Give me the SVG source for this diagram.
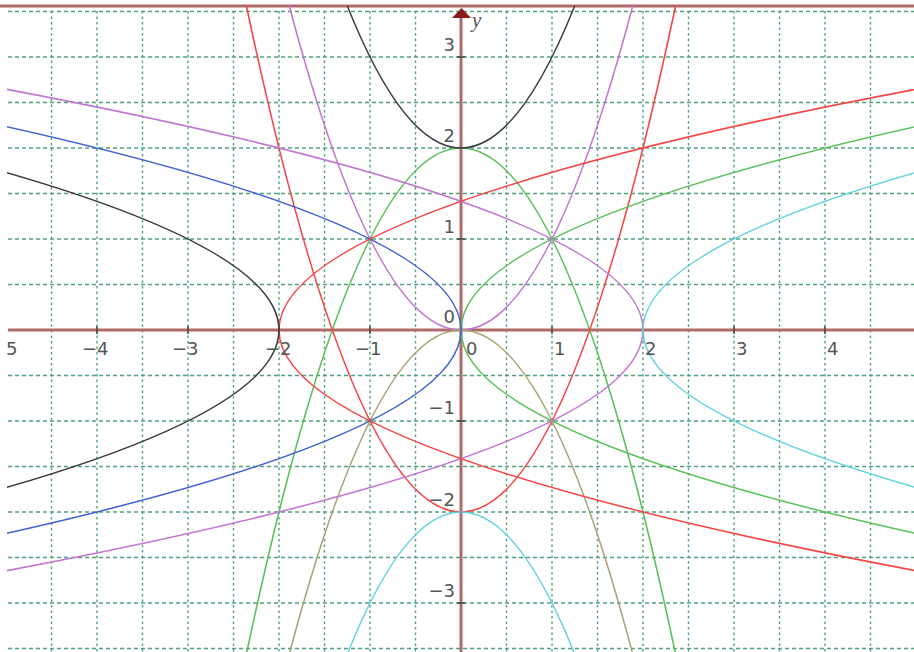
<svg xmlns="http://www.w3.org/2000/svg" width="914" height="652" viewBox="0 0 914 652">
<style>
.gh{stroke:#4fa27a;stroke-width:1.4;stroke-dasharray:4 3;fill:none}
.gv{stroke:#4fa27a;stroke-width:1.4;stroke-dasharray:2.5 3;fill:none}
.ax{stroke:#b06a6a;stroke-width:3;fill:none}
.tk{stroke:#444;stroke-width:1.5}
.c{fill:none;stroke-width:1.6}
.lb{font-family:"DejaVu Sans",sans-serif;font-size:18px;fill:#555}
.ye{text-anchor:end}
</style>
<defs>
<clipPath id="plot"><rect x="7" y="6" width="907" height="646"/></clipPath>
</defs>
<rect width="914" height="652" fill="#fff"/>
<g id="grid" clip-path="url(#plot)">
<path class="gh" d="M8,11.5H914M8,57H914M8,102.5H914M8,148H914M8,193.5H914M8,239H914M8,284.5H914M8,375.5H914M8,421H914M8,466.5H914M8,512H914M8,557.5H914M8,603H914M8,648.5H914"/>
<path class="gv" d="M51.5,11V652M97,11V652M142.5,11V652M188,11V652M233.5,11V652M279,11V652M324.5,11V652M370,11V652M415.5,11V652M506.5,11V652M552,11V652M597.5,11V652M643,11V652M688.5,11V652M734,11V652M779.5,11V652M825,11V652M870.5,11V652"/>
</g>
<g id="axes">
<line class="ax" x1="0" y1="6" x2="914" y2="6"/>
<line class="ax" x1="8" y1="330" x2="914" y2="330"/>
<line class="ax" x1="461" y1="14" x2="461" y2="652"/>
<polygon points="452,18 461.5,8 471,18" fill="#8b1c1c"/>
<path class="tk" d="M97,326V334M188,326V334M279,326V334M370,326V334M552,326V334M643,326V334M734,326V334M825,326V334M457,57H465M457,148H465M457,239H465M457,421H465M457,512H465M457,603H465"/>
</g>
<g id="curves" clip-path="url(#plot)">
<path id="y-x2" class="c" stroke="#c274d2" d="M233.5,-238.75 Q461,898.75 688.5,-238.75"/>
<path id="y-negx2" class="c" stroke="#a8a270" d="M233.5,898.75 Q461,-238.75 688.5,898.75"/>
<path id="y-2minusx2" class="c" stroke="#58c058" d="M233.5,716.75 Q461,-420.75 688.5,716.75"/>
<path id="y-x2minus2" class="c" stroke="#f54444" d="M233.5,-56.75 Q461,1080.75 688.5,-56.75"/>
<path id="y-x2plus2" class="c" stroke="#3a3a3a" d="M233.5,-420.75 Q461,716.75 688.5,-420.75"/>
<path id="y-negx2minus2" class="c" stroke="#62d2de" d="M233.5,1080.75 Q461,-56.75 688.5,1080.75"/>
<path id="x-y2" class="c" stroke="#58c058" d="M1280,57 Q-358,330 1280,603"/>
<path id="x-negy2" class="c" stroke="#3f62cf" d="M-358,57 Q1280,330 -358,603"/>
<path id="x-2minusy2" class="c" stroke="#c274d2" d="M-176,57 Q1462,330 -176,603"/>
<path id="x-y2minus2" class="c" stroke="#f54444" d="M1098,57 Q-540,330 1098,603"/>
<path id="x-negy2minus2" class="c" stroke="#3a3a3a" d="M-540,57 Q1098,330 -540,603"/>
<path id="x-y2plus2" class="c" stroke="#62d2de" d="M1462,57 Q-176,330 1462,603"/>
</g>
<g id="labels">
<text class="lb" x="6" y="355">5</text>
<text class="lb" x="82" y="355">−4</text>
<text class="lb" x="172" y="355">−3</text>
<text class="lb" x="265" y="355">−2</text>
<text class="lb" x="355" y="355">−1</text>
<text class="lb" x="466" y="355">0</text>
<text class="lb" x="554" y="355">1</text>
<text class="lb" x="645" y="355">2</text>
<text class="lb" x="736" y="355">3</text>
<text class="lb" x="827" y="355">4</text>
<text class="lb ye" x="455" y="51">3</text>
<text class="lb ye" x="455" y="142">2</text>
<text class="lb ye" x="455" y="233">1</text>
<text class="lb ye" x="455" y="323">0</text>
<text class="lb ye" x="455" y="414">−1</text>
<text class="lb ye" x="455" y="506">−2</text>
<text class="lb ye" x="455" y="597">−3</text>
<text x="472" y="27" font-family="'Liberation Serif',serif" font-style="italic" font-size="21" fill="#555">y</text>
</g>
</svg>
